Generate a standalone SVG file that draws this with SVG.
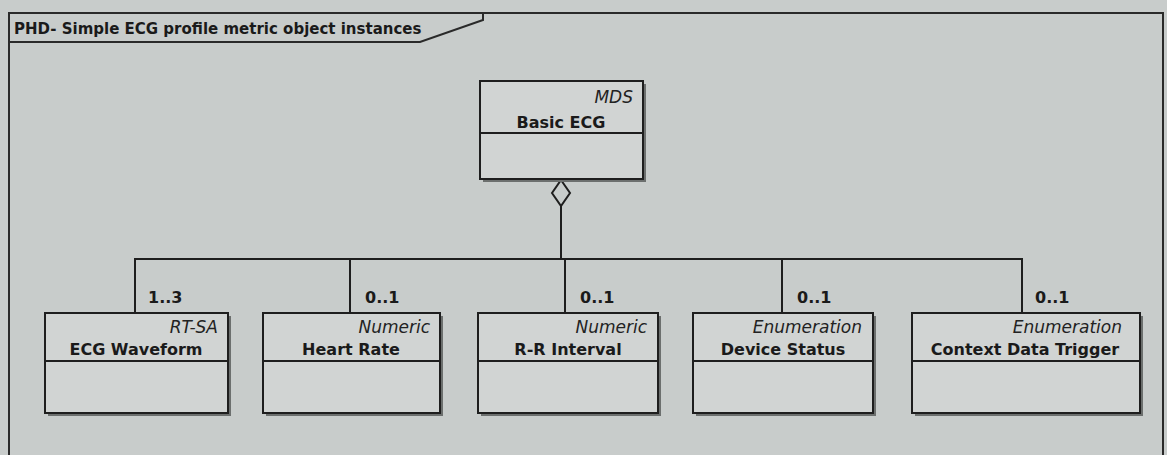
<svg xmlns="http://www.w3.org/2000/svg" width="1167" height="455" viewBox="0 0 1167 455">
<style>
.bg{fill:#c8cccb}
.frame{fill:none;stroke:#2a2a2a;stroke-width:2}
.box{fill:#d1d4d3;stroke:#1e1e1e;stroke-width:2}
.shadow{fill:#6c6f6e}
.div{stroke:#1e1e1e;stroke-width:2}
.conn{fill:none;stroke:#1e1e1e;stroke-width:2}
.title{font-family:"DejaVu Sans",sans-serif;font-weight:bold;font-size:15px;fill:#1a1a1a}
.st{font-family:"DejaVu Sans",sans-serif;font-style:italic;font-size:17px;fill:#222;text-anchor:end}
.nm{font-family:"DejaVu Sans",sans-serif;font-weight:bold;font-size:16px;fill:#1a1a1a;text-anchor:middle}
.mult{font-family:"DejaVu Sans",sans-serif;font-weight:bold;font-size:16px;fill:#1a1a1a}
</style>
<rect class="bg" x="0" y="0" width="1167" height="455"/>
<g id="frame">
<rect class="frame" x="9" y="13" width="1154" height="470"/>
<path class="frame" d="M9,42 H420 L483,20 V13"/>
<text class="title" x="14" y="34">PHD- Simple ECG profile metric object instances</text>
</g>
<g id="connectors">
<polygon class="conn" points="561,180 570,193 561,206 552,193" fill="#d1d4d3"/>
<path class="conn" d="M561,206 V259"/>
<path class="conn" d="M135,313 V259 H1022 V313"/>
<path class="conn" d="M350,259 V313"/>
<path class="conn" d="M565,259 V313"/>
<path class="conn" d="M782,259 V313"/>
<text class="mult" x="148" y="303">1..3</text>
<text class="mult" x="365" y="303">0..1</text>
<text class="mult" x="580" y="303">0..1</text>
<text class="mult" x="797" y="303">0..1</text>
<text class="mult" x="1035" y="303">0..1</text>
</g>
<g id="mds">
<rect class="shadow" x="483" y="84" width="163" height="98"/>
<rect class="box" x="480" y="81" width="163" height="98"/>
<line class="div" x1="480" y1="133" x2="643" y2="133"/>
<text class="st" x="633" y="103">MDS</text>
<text class="nm" x="561" y="128">Basic ECG</text>
</g>
<g id="ecg-waveform">
<rect class="shadow" x="48" y="316" width="183" height="100"/>
<rect class="box" x="45" y="313" width="183" height="100"/>
<line class="div" x1="45" y1="361" x2="228" y2="361"/>
<text class="st" x="218" y="333">RT-SA</text>
<text class="nm" x="136" y="355">ECG Waveform</text>
</g>
<g id="heart-rate">
<rect class="shadow" x="266" y="316" width="177" height="100"/>
<rect class="box" x="263" y="313" width="177" height="100"/>
<line class="div" x1="263" y1="361" x2="440" y2="361"/>
<text class="st" x="430" y="333">Numeric</text>
<text class="nm" x="351" y="355">Heart Rate</text>
</g>
<g id="rr-interval">
<rect class="shadow" x="481" y="316" width="180" height="100"/>
<rect class="box" x="478" y="313" width="180" height="100"/>
<line class="div" x1="478" y1="361" x2="658" y2="361"/>
<text class="st" x="647" y="333">Numeric</text>
<text class="nm" x="568" y="355">R-R Interval</text>
</g>
<g id="device-status">
<rect class="shadow" x="696" y="316" width="180" height="100"/>
<rect class="box" x="693" y="313" width="180" height="100"/>
<line class="div" x1="693" y1="361" x2="873" y2="361"/>
<text class="st" x="862" y="333">Enumeration</text>
<text class="nm" x="783" y="355">Device Status</text>
</g>
<g id="context-data-trigger">
<rect class="shadow" x="915" y="316" width="228" height="100"/>
<rect class="box" x="912" y="313" width="228" height="100"/>
<line class="div" x1="912" y1="361" x2="1140" y2="361"/>
<text class="st" x="1122" y="333">Enumeration</text>
<text class="nm" x="1025" y="355">Context Data Trigger</text>
</g>
</svg>
